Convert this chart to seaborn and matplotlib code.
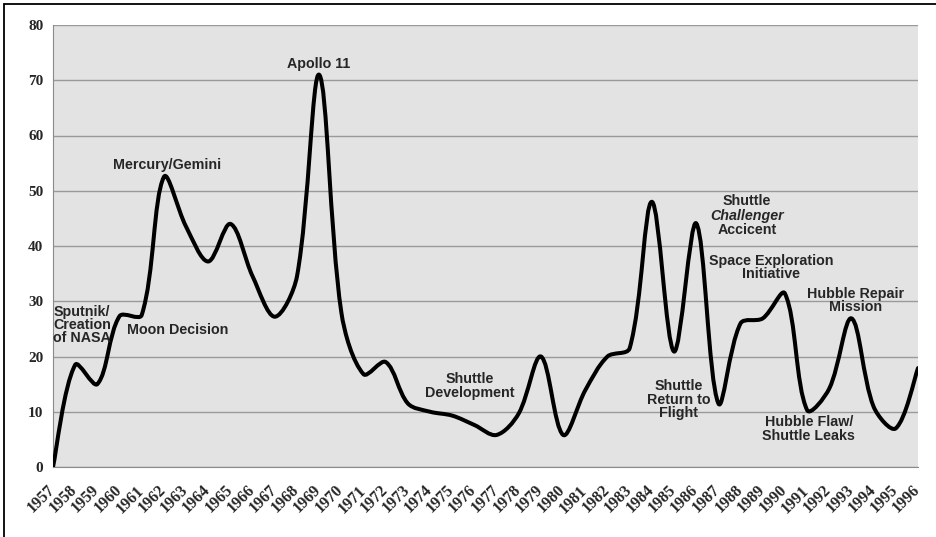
import numpy as np
import matplotlib
matplotlib.use('Agg')
import matplotlib.pyplot as plt
import matplotlib.transforms as mtransforms
from matplotlib.path import Path
from matplotlib.patches import PathPatch
from matplotlib.lines import Line2D
import seaborn as sns

# 연도별 값
years = list(range(1957, 1997))
values = [0, 18.5, 15, 27.3, 27.5, 52.5, 43.5, 37.2, 44, 34.5,
          27.2, 34.5, 71, 28, 16.8, 19, 11.5, 10, 9.3, 7.6,
          5.8, 9.7, 20, 5.8, 13.9, 20, 21.5, 48, 20.9, 44.1,
          11.5, 26, 26.9, 31.4, 10.3, 14.2, 26.9, 10.9, 7, 17.9]

# 주석 텍스트
labels = ['Sputnik/\nCreation\nof NASA', 'Moon Decision', 'Mercury/Gemini', 'Apollo 11',
          'Shuttle\nDevelopment', 'Space Exploration\nInitiative', 'Hubble Repair\nMission',
          'Shuttle\nReturn to\nFlight', 'Hubble Flaw/\nShuttle Leaks']
label_x = [1958.31, 1962.64, 1962.14, 1968.99, 1975.8, 1989.37, 1993.2, 1985.22, 1991.08]
label_y = [25.7, 24.8, 54.7, 72.9, 14.7, 36.1, 30.1, 12.2, 6.9]

sns.set_style('whitegrid', {'axes.facecolor': '#e3e3e3', 'grid.color': '#9a9a9a',
                            'axes.edgecolor': '#8a8a8a'})

fig = plt.figure(figsize=(9.36, 5.37), dpi=100)
ax = fig.add_axes([53/936, 1-467/537, 865/936, 442/537])

# 엑셀식 부드러운 선: 베지어 제어점 (화면 비율로 계산)
sy = (442/80) / (865/39)
x = np.array(years, dtype=float)
y = np.array(values, dtype=float) * sy
n = len(x)
pts = np.column_stack([x, y])
tang = []
for i in range(n):
    a = pts[max(i-1, 0)]
    b = pts[min(i+1, n-1)]
    tang.append((b - a) / 6)
seg = [np.linalg.norm(pts[i+1] - pts[i]) for i in range(n-1)]
verts = [tuple(pts[0])]
codes = [Path.MOVETO]
for i in range(n-1):
    d_in = seg[i-1] if i > 0 else seg[i]
    d_out = seg[i]
    k1 = 2 * d_out / (d_in + d_out)
    d_next = seg[i+1] if i+1 < n-1 else seg[i]
    k2 = 2 * d_out / (d_out + d_next)
    c1 = pts[i] + tang[i] * k1
    c2 = pts[i+1] - tang[i+1] * k2
    for p in (c1, c2, pts[i+1]):
        verts.append((p[0], p[1] / sy))
    codes += [Path.CURVE4] * 3
verts[0] = (verts[0][0], verts[0][1] / sy)
ax.add_patch(PathPatch(Path(verts, codes), facecolor='none', edgecolor='black',
                       lw=2.9, capstyle='round', joinstyle='round', zorder=3))

ax.set_xlim(1957, 1996)
ax.set_ylim(0, 80)
ax.set_xticks(years)
ax.set_yticks(range(0, 90, 10))
ax.grid(axis='x', visible=False)
ax.grid(axis='y', lw=1.0)
sns.despine(ax=ax, top=True, right=True)
ax.spines['left'].set_color('#8a8a8a')
ax.spines['bottom'].set_color('#8a8a8a')
ax.tick_params(axis='both', direction='out', length=4, color='#8a8a8a', width=0.8)
ax.tick_params(axis='y', pad=3)
ax.tick_params(axis='x', pad=7)

ax.set_yticklabels([str(v) for v in range(0, 90, 10)],
                   fontfamily='Liberation Serif', fontweight='bold', fontsize=11)
ax.set_xticklabels([str(v) for v in years], rotation=45, ha='right', va='top',
                   rotation_mode='anchor', fontfamily='Liberation Serif',
                   fontweight='bold', fontsize=11.5)
shift = mtransforms.ScaledTranslation(-6/100, 0, fig.dpi_scale_trans)
for lab in ax.get_xticklabels():
    lab.set_transform(lab.get_transform() + shift)

for t, lx, ly in zip(labels, label_x, label_y):
    ax.text(lx, ly, t, ha='center', va='center', fontfamily='Liberation Sans',
            fontweight='bold', fontsize=10.3, linespacing=0.95, zorder=4)

# Challenger 부분은 이탤릭
ax.text(1988.29, 48.1, 'Shuttle', ha='center', va='center', fontfamily='Liberation Sans',
        fontweight='bold', fontsize=10.3, zorder=4)
ax.text(1988.29, 45.5, 'Challenger', ha='center', va='center', fontfamily='Liberation Sans',
        fontweight='bold', fontstyle='italic', fontsize=10.3, zorder=4)
ax.text(1988.29, 42.9, 'Accicent', ha='center', va='center', fontfamily='Liberation Sans',
        fontweight='bold', fontsize=10.3, zorder=4)

# 바깥 테두리 (왼쪽, 위)
fig.add_artist(Line2D([4/936, 4/936], [0, 1-4/537], color='black', lw=1.3, transform=fig.transFigure))
fig.add_artist(Line2D([4/936, 1], [1-4/537, 1-4/537], color='black', lw=1.3, transform=fig.transFigure))

fig.savefig('out.png', dpi=100)
